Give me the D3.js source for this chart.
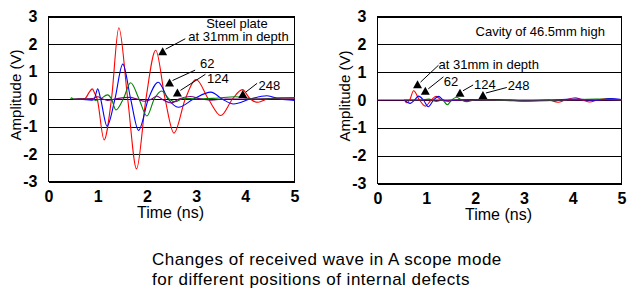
<!doctype html>
<html>
<head>
<meta charset="utf-8">
<style>
    body { margin: 0; background: #fff; }
    svg text { font-family: "Liberation Sans", Arial, sans-serif; fill: #000; }
    .ticks text { font-weight: bold; font-size: 16px; }
    .note { font-size: 13px; }
    .trace { fill: none; stroke-width: 1.1px; }
</style>
<script src="https://d3js.org/d3.v7.min.js"></script>
</head>
<body>
<svg width="633" height="296"></svg>
<script>
    // tick labels
    var timeTicks = [0, 1, 2, 3, 4, 5];
    var ampTicks = [-3, -2, -1, 0, 1, 2, 3];
    var depthColors = ["#ff0000", "#0000ff", "#008000", "#800080"];

    // steel plate, [time (ns), amplitude (V)] for 31 / 62 / 124 / 248 mm
    var steel31 = [[0.57,0],[0.74,0.02],[0.83,0.25],[0.89,0.37],[0.94,0.2],[0.99,0],[1.13,-1.49],[1.28,0],[1.43,2.59],[1.61,0],[1.79,-2.54],[1.98,0],[2.18,1.77],[2.37,0],[2.55,-1.24],[2.78,0],[3.0,0.71],[3.25,0],[3.5,-0.6],[3.74,0],[3.94,0.34],[4.1,0],[4.26,-0.12],[4.45,0],[4.7,0.04],[5,0.04]];
    var steel62 = [[0.6,0],[0.88,-0.04],[0.93,0],[1.0,0.37],[1.06,0],[1.19,-0.99],[1.35,0],[1.51,1.27],[1.67,0],[1.83,-1.14],[2.03,0],[2.23,0.61],[2.43,0],[2.64,-0.3],[2.95,0],[3.3,0.25],[3.53,0],[3.76,-0.18],[4.1,0],[4.44,0.12],[4.7,0],[5,-0.05]];
    var steel124 = [[0.45,0],[0.47,0.04],[0.5,0],[0.9,0],[0.96,-0.05],[1.05,0],[1.2,0.15],[1.28,0],[1.37,-0.4],[1.52,0],[1.67,0.59],[1.84,0],[2.0,-0.62],[2.15,0],[2.3,0.29],[2.45,0],[2.57,-0.1],[2.75,0.03],[3.0,0],[3.4,0.03],[3.8,0.08],[4.2,0],[4.6,0.03],[5,0.05]];
    var steel248 = [[0.5,0],[0.9,0.02],[1.0,0.08],[1.1,0],[1.2,-0.05],[1.35,0],[1.65,0.06],[1.8,0],[1.95,-0.08],[2.1,0],[2.2,0.11],[2.3,0],[2.5,-0.14],[2.65,0],[2.88,0.09],[3.1,0],[3.3,-0.04],[3.6,0],[5,0]];

    // cavity, same depths
    var cavity31 = [[0.55,0],[0.6,-0.1],[0.66,0],[0.74,0.33],[0.86,0],[0.98,-0.22],[1.1,0],[1.2,0.13],[1.3,0],[1.4,-0.03],[1.55,0],[2.0,0.02],[2.6,0],[3.1,-0.03],[3.5,0],[3.7,-0.08],[3.85,0],[4.05,0.08],[4.2,0],[4.35,-0.07],[4.5,0],[4.7,0.04],[5,0]];
    var cavity62 = [[0.55,0],[0.67,-0.12],[0.76,0],[0.84,0.14],[0.94,0],[1.04,-0.24],[1.15,0],[1.25,0.13],[1.35,0],[1.45,-0.04],[1.6,0],[2.4,0.02],[3.0,-0.03],[3.6,0],[4.1,0.03],[4.5,-0.02],[4.75,0.05],[5,0.02]];
    var cavity124 = [[0.55,0],[0.9,0],[1.05,0.03],[1.2,-0.05],[1.33,0],[1.43,-0.17],[1.52,0],[1.62,0.1],[1.72,0],[1.83,-0.06],[2.0,0],[2.6,-0.02],[3.2,-0.03],[3.8,0],[4.5,0.03],[5,0]];
    var cavity248 = [[0,0],[5,0]];

    // annotations: marker point, leader end, label (all in time / amplitude units)
    var steelMarkers = [[2.32,1.74],[2.46,0.60],[2.62,0.24],[3.95,0.18]];
    var steelLeaders = [[2.78,2.19],[2.98,1.05],[3.19,0.90],[4.24,0.57]];
    var steelLabels = ["at 31mm in depth", "62", "124", "248"];
    var steelLabelAt = [[2.84,2.11],[3.08,1.12],[3.22,0.59],[4.27,0.32]];
    var cavityMarkers = [[0.82,0.57],[0.98,0.33],[1.69,0.26],[2.16,0.18]];
    var cavityLeaders = [[1.25,1.25],[1.35,0.83],[1.96,0.54],[2.65,0.45]];
    var cavityLabels = ["at 31mm in depth", "62", "124", "248"];
    var cavityLabelAt = [[1.25,1.11],[1.36,0.52],[1.98,0.38],[2.67,0.36]];

    var svg = d3.select("svg");

    function drawPanel(box, series, markers, leaders, labels, labelAt, heading, headingAt) {
        var x = d3.scaleLinear().domain([0, 5]).range([box.left, box.right]),
            y = d3.scaleLinear().domain([-3, 3]).range([box.bottom, box.top]);

        // grid lines
        svg.append("g")
           .attr("transform", "translate(" + box.left + ",0)")
           .attr("shape-rendering", "crispEdges")
           .call(d3.axisLeft(y).tickValues(ampTicks).tickSize(-(box.right - box.left)).tickFormat(""))
           .call(function(g) { g.select(".domain").remove(); });

        svg.append("rect")
           .attr("x", box.left).attr("y", box.top)
           .attr("width", box.right - box.left).attr("height", box.bottom - box.top)
           .attr("fill", "none").attr("stroke", "#000")
           .attr("shape-rendering", "crispEdges");

        // tick labels
        svg.append("g")
           .attr("class", "ticks")
           .attr("transform", "translate(0," + box.bottom + ")")
           .call(d3.axisBottom(x).tickValues(timeTicks).tickSize(0).tickPadding(9)
                 .tickFormat(function(d) { return String(d); }))
           .call(function(g) { g.select(".domain").remove(); });

        svg.append("g")
           .attr("class", "ticks")
           .attr("transform", "translate(" + box.left + ",0)")
           .call(d3.axisLeft(y).tickValues(ampTicks).tickSize(0).tickPadding(11)
                 .tickFormat(function(d) { return String(d); }))
           .call(function(g) { g.select(".domain").remove(); });

        svg.selectAll(".ticks text").attr("fill", "#000");

        svg.append("text")
           .attr("transform", "translate(" + (box.left - 28) + "," + ((box.top + box.bottom) / 2 - 4) + ") rotate(-90)")
           .attr("text-anchor", "middle")
           .attr("font-size", "15px")
           .text("Amplitude (V)");

        svg.append("text")
           .attr("x", (box.left + box.right) / 2 - 1)
           .attr("y", box.bottom + 36)
           .attr("text-anchor", "middle")
           .attr("font-size", "16px")
           .text("Time (ns)");

        // traces
        var line = d3.line()
            .x(function(d) { return x(d[0]); })
            .y(function(d) { return y(d[1]); })
            .curve(d3.curveMonotoneX);

        svg.append("g").selectAll("path")
           .data(series)
           .enter().append("path")
           .attr("class", "trace")
           .attr("stroke", function(d, i) { return depthColors[i]; })
           .attr("d", line);

        // markers + leaders
        markers.forEach(function(m, i) {
            var px = x(m[0]), py = y(m[1]);
            svg.append("line")
               .attr("x1", px + 3).attr("y1", py - 2)
               .attr("x2", x(leaders[i][0])).attr("y2", y(leaders[i][1]))
               .attr("stroke", "#000");
            svg.append("path")
               .attr("d", "M" + (px - 4.5) + "," + (py + 4) + "L" + (px + 4.5) + "," + (py + 4) + "L" + px + "," + (py - 4) + "Z")
               .attr("fill", "#000");
            svg.append("text")
               .attr("class", "note")
               .attr("x", x(labelAt[i][0]))
               .attr("y", y(labelAt[i][1]))
               .text(labels[i]);
        });

        svg.append("text")
           .attr("class", "note")
           .attr("x", x(headingAt[0]))
           .attr("y", y(headingAt[1]))
           .attr("text-anchor", headingAt[2])
           .text(heading);
    }

    drawPanel({left: 48.5, right: 294.5, top: 16.5, bottom: 181.5},
              [steel31, steel62, steel124, steel248],
              steelMarkers, steelLeaders, steelLabels, steelLabelAt,
              "Steel plate", [3.83, 2.6, "middle"]);

    drawPanel({left: 377.5, right: 621.5, top: 16.5, bottom: 183.5},
              [cavity31, cavity62, cavity124, cavity248],
              cavityMarkers, cavityLeaders, cavityLabels, cavityLabelAt,
              "Cavity of 46.5mm high", [2.01, 2.3, "start"]);

    // caption
    var caption = svg.append("text")
        .attr("x", 152)
        .attr("y", 265)
        .attr("font-size", "17px")
        .attr("letter-spacing", "0.5px");
    caption.append("tspan").attr("x", 152).text("Changes of received wave in A scope mode");
    caption.append("tspan").attr("x", 152).attr("dy", 20).text("for different positions of internal defects");
</script>
</body>
</html>
